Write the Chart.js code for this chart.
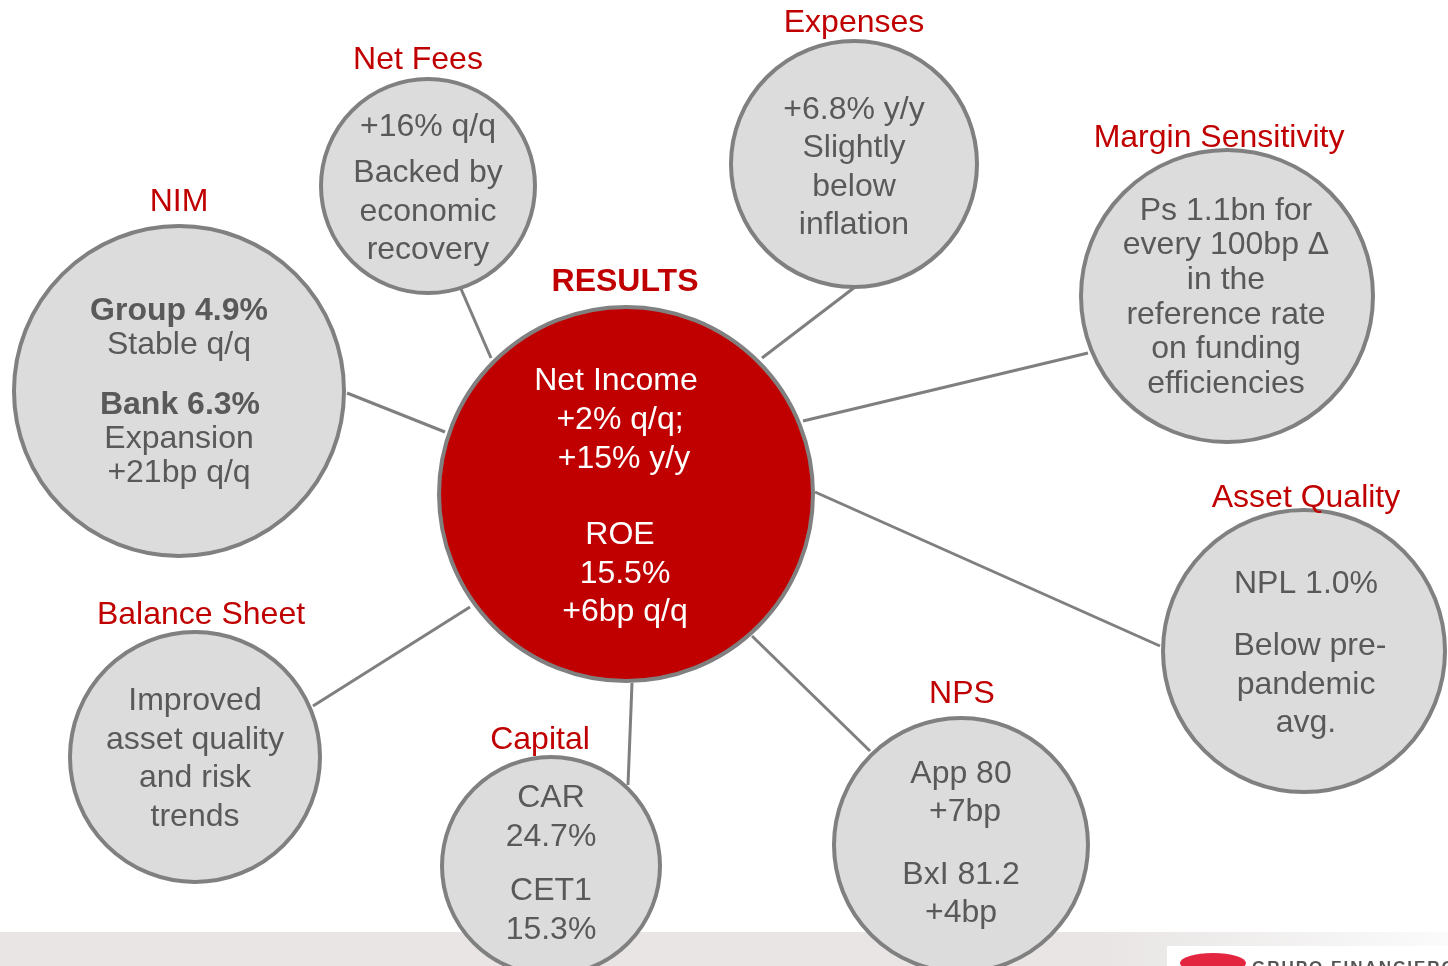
<!DOCTYPE html>
<html>
<head>
<meta charset="utf-8">
<script src="https://cdn.jsdelivr.net/npm/chart.js@4"></script>
<style>
  body { margin: 0; background: #fff; }
  #chart { display: block; }
</style>
</head>
<body>
<canvas id="chart" width="1448" height="966"></canvas>
<script>
// nodes of the diagram (centre, radius, title)
var nodeNames = ['RESULTS', 'NIM', 'Net Fees', 'Expenses', 'Margin Sensitivity', 'Asset Quality', 'NPS', 'Capital', 'Balance Sheet'];
var nodeX = [626, 179, 428, 854, 1227, 1304, 961, 551, 195];
var nodeY = [494, 391, 186, 164, 296, 651, 845, 866, 757];
var nodeR = [187, 165, 107, 123, 146, 141, 127, 109, 125];
var titleX = [625, 179, 418, 854, 1219, 1306, 962, 540, 201];
var titleY = [280, 200, 58, 21, 136, 496, 692, 738, 613];

// text inside each bubble: [text, x, y, bold]
var nodeLines = [
  [['Net Income', 616, 379], ['+2% q/q;', 620, 418], ['+15% y/y', 624, 457], ['ROE', 620, 533], ['15.5%', 625, 572], ['+6bp q/q', 625, 610]],
  [['Group 4.9%', 179, 309, true], ['Stable q/q', 179, 343], ['Bank 6.3%', 180, 403, true], ['Expansion', 179, 437], ['+21bp q/q', 179, 471]],
  [['+16% q/q', 428, 125], ['Backed by', 428, 171], ['economic', 428, 210], ['recovery', 428, 248]],
  [['+6.8% y/y', 854, 108], ['Slightly', 854, 146], ['below', 854, 185], ['inflation', 854, 223]],
  [['Ps 1.1bn for', 1226, 209], ['every 100bp \u0394', 1226, 243], ['in the', 1226, 278], ['reference rate', 1226, 313], ['on funding', 1226, 347], ['efficiencies', 1226, 382]],
  [['NPL 1.0%', 1306, 582], ['Below pre-', 1310, 644], ['pandemic', 1306, 683], ['avg.', 1306, 721]],
  [['App 80', 961, 772], ['+7bp', 965, 810], ['BxI 81.2', 961, 873], ['+4bp', 961, 911]],
  [['CAR', 551, 796], ['24.7%', 551, 835], ['CET1', 551, 889], ['15.3%', 551, 928]],
  [['Improved', 195, 699], ['asset quality', 195, 738], ['and risk', 195, 776], ['trends', 195, 815]]
];

// connector lines from the centre bubble out to the others
var linkFromX = [445, 491, 762, 803, 815, 752, 632, 470];
var linkFromY = [432, 358, 358, 421, 492, 636, 683, 607];
var linkToX = [347, 458, 855, 1088, 1160, 870, 628, 313];
var linkToY = [393, 282, 287, 353, 646, 751, 785, 706];

var font = '"Liberation Sans", Arial, sans-serif';

var datasets = [];
for (var i = 0; i < linkFromX.length; i++) {
  datasets.push({
    type: 'line',
    data: [{x: linkFromX[i], y: linkFromY[i]}, {x: linkToX[i], y: linkToY[i]}],
    borderColor: '#7f7f7f',
    borderWidth: 3,
    pointRadius: 0,
    fill: false,
    clip: false,
    order: 2
  });
}
datasets.push({
  type: 'bubble',
  data: nodeX.map(function (x, i) { return {x: x, y: nodeY[i], r: nodeR[i]}; }),
  backgroundColor: nodeNames.map(function (n, i) { return i === 0 ? '#c00000' : '#dcdcdc'; }),
  borderColor: '#808080',
  borderWidth: 4,
  hoverBorderWidth: 4,
  clip: false,
  order: 1
});

var footer = {
  id: 'footer',
  beforeDatasetsDraw: function (chart) {
    var c = chart.ctx;
    c.save();
    var g = c.createLinearGradient(1100, 0, 1448, 0);
    g.addColorStop(0, '#e8e5e4');
    g.addColorStop(1, '#fbfbfb');
    c.fillStyle = '#e8e5e4';
    c.fillRect(0, 932, 1100, 34);
    c.fillStyle = g;
    c.fillRect(1100, 932, 348, 34);
    c.fillStyle = '#ffffff';
    c.fillRect(1167, 946, 281, 20);
    c.fillStyle = '#e4253f';
    c.beginPath();
    c.ellipse(1213, 963, 33, 10, 0, 0, Math.PI * 2);
    c.fill();
    c.fillStyle = '#555555';
    c.font = 'bold 17px ' + font;
    c.letterSpacing = '2px';
    c.textBaseline = 'alphabetic';
    c.fillText('GRUPO FINANCIERO BANORTE', 1252, 973);
    c.restore();
  }
};

var labels = {
  id: 'labels',
  afterDatasetsDraw: function (chart) {
    var c = chart.ctx;
    var sx = chart.scales.x, sy = chart.scales.y;
    c.save();
    c.textAlign = 'center';
    c.textBaseline = 'middle';
    nodeNames.forEach(function (name, i) {
      c.fillStyle = '#c00000';
      c.font = (i === 0 ? 'bold ' : '') + '32px ' + font;
      c.fillText(name, sx.getPixelForValue(titleX[i]), sy.getPixelForValue(titleY[i]) + 2);
      nodeLines[i].forEach(function (ln) {
        c.fillStyle = i === 0 ? '#ffffff' : '#595959';
        c.font = (ln[3] ? 'bold ' : '') + '32px ' + font;
        c.fillText(ln[0], sx.getPixelForValue(ln[1]), sy.getPixelForValue(ln[2]) + 2);
      });
    });
    c.restore();
  }
};

var ctx = document.getElementById('chart').getContext('2d');
var chart = new Chart(ctx, {
  type: 'bubble',
  data: { datasets: datasets },
  options: {
    responsive: false,
    animation: false,
    events: [],
    layout: { padding: 0, autoPadding: false },
    scales: {
      x: { type: 'linear', min: 0, max: 1448, display: false },
      y: { type: 'linear', min: 0, max: 966, reverse: true, display: false }
    },
    plugins: {
      legend: { display: false },
      tooltip: { enabled: false }
    }
  },
  plugins: [footer, labels]
});
</script>
</body>
</html>
